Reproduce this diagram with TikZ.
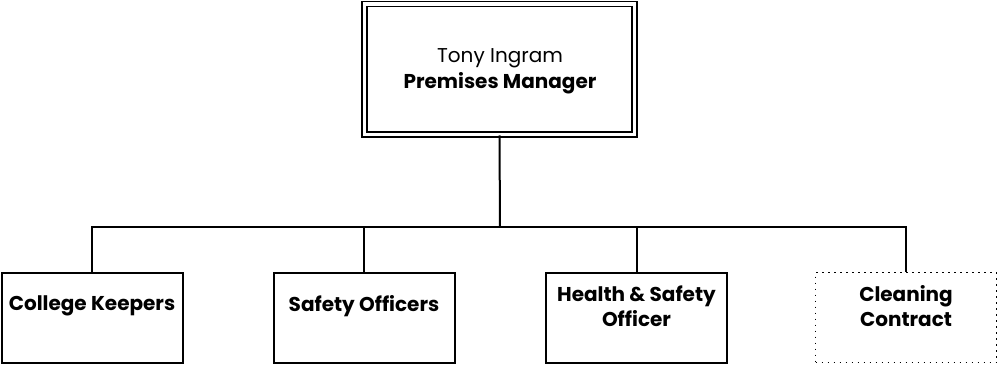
\documentclass[tikz,border=0pt]{standalone}
\usepackage{fontspec}
\setmainfont{Poppins}
\begin{document}
\begin{tikzpicture}[x=1pt,y=-1pt,
  conn/.style={line width=2pt},
  unitbox/.style={draw, line width=2pt, minimum width=181pt, minimum height=90pt, inner sep=0pt},
  dotbox/.style={draw, line width=1.8pt, dash pattern=on 1.8pt off 4.2pt, minimum width=181pt, minimum height=90pt, inner sep=0pt},
  txt/.style={font=\fontsize{20}{25}\selectfont\bfseries, align=center}]
\useasboundingbox (0,0) rectangle (1001,364);
\node[draw, line width=1.8pt, double, double distance=3.2pt, minimum width=270pt, minimum height=130.5pt, inner sep=0pt] (top) at (499.5,69.3) {};
\node[align=center, font=\fontsize{20}{26}\selectfont] (toptxt) at (500,71) {Tony Ingram\\\textbf{Premises Manager}};
\node[unitbox] (k1) at (92,317.5) {};
\node[unitbox] (k2) at (364,317.5) {};
\node[unitbox] (k3) at (636.5,317.5) {};
\node[dotbox] (k4) at (906,317.5) {};
\node[txt] (t1) at (92,306) {College Keepers};
\node[txt] (t2) at (364,306) {Safety Officers};
\node[txt] (t3) at (636.5,306) {Health \& Safety\\Officer};
\node[txt] (t4) at (906,306) {Cleaning\\Contract};
\coordinate (bus) at (500,227);
\draw[conn] (top.south) -- (bus);
\draw[conn] (k1.north) |- (bus) -| (k4.north);
\draw[conn] (k2.north) -- (k2.north |- bus);
\draw[conn] (k3.north) -- (k3.north |- bus);
\end{tikzpicture}
\end{document}
